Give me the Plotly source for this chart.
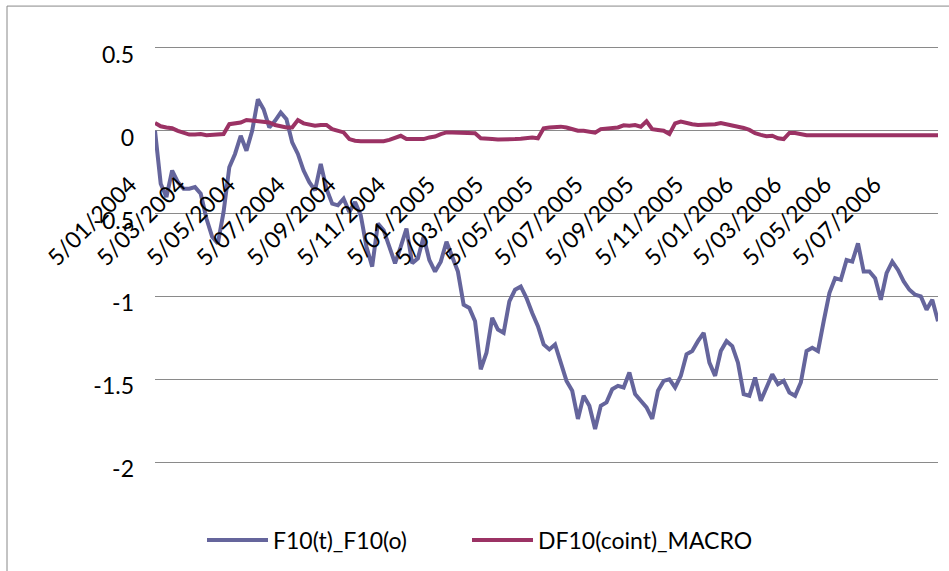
import pandas as pd
import plotly.graph_objects as go

start_date = "2004-01-05"

f10_t_f10_o = [
    0.00, -0.32, -0.40, -0.24, -0.31, -0.35, -0.35, -0.34, -0.38, -0.53,
    -0.64, -0.68, -0.49, -0.22, -0.14, -0.03, -0.12, 0.00, 0.19, 0.13,
    0.02, 0.06, 0.11, 0.07, -0.07, -0.14, -0.24, -0.31, -0.36, -0.20,
    -0.35, -0.44, -0.45, -0.41, -0.49, -0.43, -0.51, -0.70, -0.82, -0.56,
    -0.60, -0.70, -0.80, -0.70, -0.59, -0.80, -0.77, -0.64, -0.78, -0.85,
    -0.79, -0.67, -0.76, -0.85, -1.05, -1.07, -1.15, -1.44, -1.34, -1.13,
    -1.20, -1.22, -1.03, -0.96, -0.94, -1.01, -1.10, -1.18, -1.29, -1.32,
    -1.29, -1.40, -1.51, -1.57, -1.74, -1.60, -1.66, -1.80, -1.66, -1.64,
    -1.56, -1.54, -1.55, -1.46, -1.59, -1.63, -1.67, -1.74, -1.57, -1.51,
    -1.50, -1.55, -1.48, -1.35, -1.33, -1.27, -1.22, -1.40, -1.48, -1.33,
    -1.27, -1.30, -1.40, -1.59, -1.60, -1.49, -1.63, -1.55, -1.47, -1.53,
    -1.51, -1.58, -1.60, -1.52, -1.33, -1.31, -1.33, -1.15, -0.98, -0.89,
    -0.90, -0.78, -0.79, -0.68, -0.85, -0.85, -0.89, -1.02, -0.86, -0.79,
    -0.84, -0.91, -0.96, -0.99, -1.00, -1.08, -1.02, -1.15,
]

df10_coint_macro = [
    0.047, 0.027, 0.020, 0.015, 0.000, -0.010, -0.023, -0.023, -0.020, -0.027,
    -0.025, -0.025, -0.020, 0.040, 0.045, 0.050, 0.065, 0.060, 0.057, 0.055,
    0.050, 0.035, 0.025, 0.020, 0.020, 0.065, 0.045, 0.035, 0.030, 0.035,
    0.035, 0.010, 0.000, -0.010, -0.050, -0.060, -0.063, -0.063, -0.063, -0.063,
    -0.063, -0.055, -0.045, -0.030, -0.050, -0.050, -0.045, -0.050, -0.040, -0.035,
    -0.020, -0.010, -0.010, -0.010, -0.010, -0.010, -0.015, -0.045, -0.045, -0.050,
    -0.053, -0.050, -0.048, -0.050, -0.048, -0.045, -0.040, -0.045, 0.015, 0.020,
    0.022, 0.025, 0.020, 0.010, 0.000, 0.000, -0.005, -0.012, 0.010, 0.015,
    0.020, 0.020, 0.033, 0.030, 0.035, 0.025, 0.057, 0.010, 0.005, 0.000,
    -0.020, 0.045, 0.055, 0.045, 0.040, 0.035, 0.035, 0.040, 0.040, 0.047,
    0.040, 0.035, 0.025, 0.017, 0.005, -0.015, -0.025, -0.033, -0.030, -0.045,
    -0.050, -0.013, -0.013, -0.020, -0.027, -0.027, -0.027, -0.027, -0.027, -0.027,
    -0.027, -0.027, -0.027, -0.027, -0.027, -0.027, -0.027, -0.027, -0.027, -0.027,
    -0.027, -0.027, -0.027, -0.027, -0.027, -0.027, -0.027, -0.027,
]

x_tick_labels = [
    "5/01/2004", "5/03/2004", "5/05/2004", "5/07/2004", "5/09/2004", "5/11/2004",
    "5/01/2005", "5/03/2005", "5/05/2005", "5/07/2005", "5/09/2005", "5/11/2005",
    "5/01/2006", "5/03/2006", "5/05/2006", "5/07/2006",
]
y_tick_vals = [0.5, 0, -0.5, -1, -1.5, -2]
y_tick_labels = ["0.5", "0", "-0.5", "-1", "-1.5", "-2"]

series_names = ["F10(t)_F10(o)", "DF10(coint)_MACRO"]
series_colors = ["#65659c", "#9b3264"]
series_legends = ["legend", "legend2"]

dates = pd.date_range(start_date, periods=len(f10_t_f10_o), freq="7D")
x_tick_vals = pd.to_datetime(x_tick_labels, format="%d/%m/%Y")

FONT = "Lato, 'Open Sans', sans-serif"
FS = 23
GRID = "#8a8a8a"

fig = go.Figure()
for name, vals, col, lg in zip(series_names, [f10_t_f10_o, df10_coint_macro],
                               series_colors, series_legends):
    fig.add_trace(go.Scatter(
        x=dates, y=vals, mode="lines", name=name, legend=lg,
        line=dict(color=col, width=4),
    ))

PX_PER_UNIT = 166.0
pad = 0.03
y_min, y_max = -2 - pad, 0.5 + pad
x_pos = (0 - y_min) / (y_max - y_min)
H = round((y_max - y_min) * PX_PER_UNIT)
T = round(48.3 - pad * PX_PER_UNIT)
L, W = 155, 783


def legend_cfg(line_start_px):
    return dict(
        orientation="h", x=(line_start_px - 6 - L) / W, y=(T + H - 540) / H,
        xanchor="left", yanchor="middle",
        font=dict(family=FONT, size=FS, color="black"),
        itemwidth=61, bgcolor="rgba(0,0,0,0)",
    )


fig.update_layout(
    width=949, height=571,
    margin=dict(l=L, r=949 - L - W, t=T, b=571 - T - H),
    paper_bgcolor="white", plot_bgcolor="white",
    font=dict(family=FONT, size=FS, color="black"),
    showlegend=True,
    legend=legend_cfg(208),
    legend2=legend_cfg(473),
    xaxis=dict(
        type="date", range=[dates[0], dates[-1]],
        tickvals=x_tick_vals, ticktext=x_tick_labels, tickangle=-45,
        showgrid=False, zeroline=False, showline=False,
        ticks="", anchor="free", position=x_pos,
        ticklabelshift=-25, ticklabelstandoff=35,
        tickfont=dict(family=FONT, size=FS, color="black"),
    ),
    yaxis=dict(
        range=[y_min, y_max], tickvals=y_tick_vals, ticktext=y_tick_labels,
        showgrid=True, gridcolor=GRID, gridwidth=1, zeroline=False, showline=False,
        ticks="", ticklabelstandoff=20, ticklabelshift=7,
        tickfont=dict(family=FONT, size=FS, color="black"),
    ),
    shapes=[dict(
        type="rect", xref="paper", yref="paper",
        x0=(7 - L) / W, x1=1.1, y0=-0.4, y1=(T + H - 6) / H,
        line=dict(color="#888888", width=1), fillcolor="rgba(0,0,0,0)", layer="below",
    )],
)

fig.write_html("out.html", config={"displayModeBar": False},
               post_script="document.body.style.margin='0';")
